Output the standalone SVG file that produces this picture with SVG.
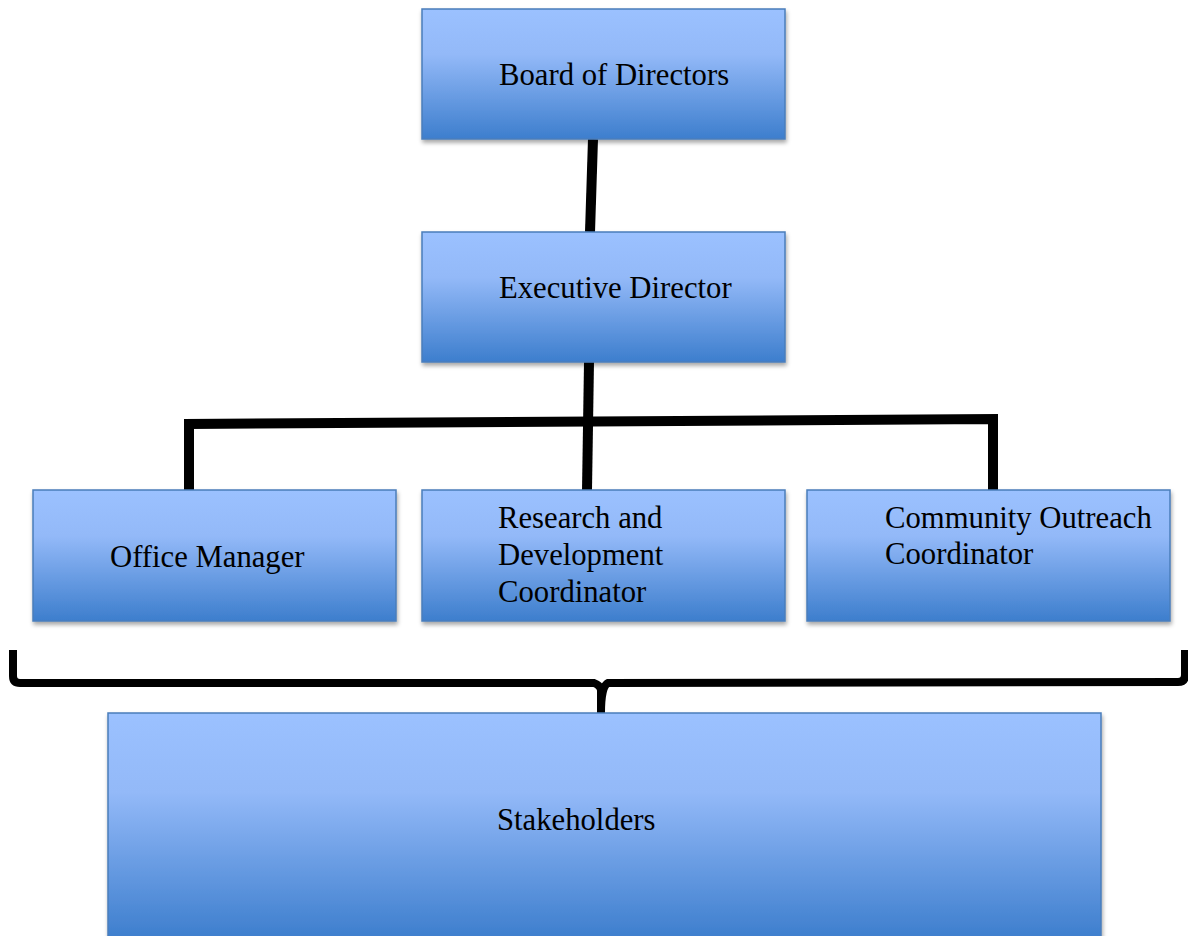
<svg xmlns="http://www.w3.org/2000/svg" width="1188" height="936" viewBox="0 0 1188 936">
<style>
.box{fill:url(#g);stroke:#4a7ebb;stroke-width:1.5;filter:url(#sh)}
.t{font-family:"Liberation Serif","Times New Roman",serif;font-size:30.7px;fill:#000}
.c{fill:none;stroke:#000;stroke-width:10;stroke-linejoin:miter}
</style>
<defs>
<linearGradient id="g" x1="0" y1="0" x2="0" y2="1">
<stop offset="0" stop-color="#9bc1ff"/>
<stop offset="0.35" stop-color="#93b9f8"/>
<stop offset="1" stop-color="#3d7ecd"/>
</linearGradient>
<filter id="sh" x="-5%" y="-5%" width="115%" height="120%">
<feDropShadow dx="1" dy="3" stdDeviation="2" flood-color="#000" flood-opacity="0.35"/>
</filter>
</defs>
<g id="connectors">
<path class="c" d="M593 139 L590 232"/>
<path class="c" d="M589 362 L587 490"/>
<path class="c" d="M189 490 L189 424 L993 419 L993 490"/>
<path d="M13 650 L13 676 Q13 683 20 683 L594 683 Q600 685 601 690 L601 713 Q601 686 608 683 L1178 682 Q1185 682 1185 675 L1185 650" fill="none" stroke="#000" stroke-width="8"/>
</g>
<g id="board"><rect class="box" x="422" y="9" width="363" height="130"/><text class="t" x="499" y="85">Board of Directors</text></g>
<g id="exec"><rect class="box" x="422" y="232" width="363" height="130"/><text class="t" x="499" y="298">Executive Director</text></g>
<g id="office"><rect class="box" x="33" y="490" width="363" height="131"/><text class="t" x="110" y="567">Office Manager</text></g>
<g id="rnd"><rect class="box" x="422" y="490" width="363" height="131"/><text class="t" x="498" y="528">Research and</text><text class="t" x="498" y="565">Development</text><text class="t" x="498" y="602">Coordinator</text></g>
<g id="community"><rect class="box" x="807" y="490" width="363" height="131"/><text class="t" x="885" y="528">Community Outreach</text><text class="t" x="885" y="564">Coordinator</text></g>
<g id="stakeholders"><rect class="box" x="108" y="713" width="993" height="226"/><text class="t" x="497" y="830">Stakeholders</text></g>
</svg>
